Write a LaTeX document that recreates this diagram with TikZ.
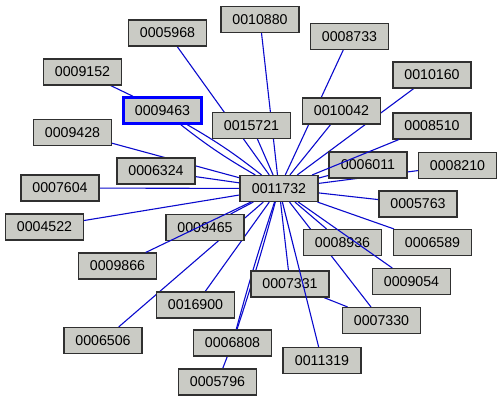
\documentclass[tikz,border=0pt]{standalone}
\usepackage{fontspec}
\setmainfont{Liberation Sans}
\usetikzlibrary{backgrounds}
\definecolor{nodefill}{RGB}{202,203,197}
\definecolor{nodeline}{RGB}{48,48,48}
\definecolor{edgeblue}{RGB}{10,10,205}
\definecolor{hiblue}{RGB}{0,0,255}
\tikzset{
  box/.style={draw=nodeline, fill=nodefill, line width=1.1pt, minimum width=78pt, minimum height=26pt, inner sep=0pt, font=\fontsize{14.2}{16}\selectfont},
  hibox/.style={box, draw=hiblue, line width=2.6pt},
  edge/.style={draw=edgeblue, line width=1.1pt},
}
\begin{document}
\begin{tikzpicture}[x=1pt,y=-1pt]
\useasboundingbox (0,0) rectangle (503,402);
\node[box] (n0005968) at (167.5,33) {0005968};
\node[box] (n0009152) at (82.5,72) {0009152};
\node[hibox] (n0009463) at (162.5,110.5) {0009463};
\node[box] (n0009428) at (72.5,132.5) {0009428};
\node[box] (n0006324) at (156,171) {0006324};
\node[box] (n0007604) at (60,188) {0007604};
\node[box] (n0015721) at (251.5,125.5) {0015721};
\node[box] (n0010880) at (260,19.5) {0010880};
\node[box] (n0008733) at (349.5,36.5) {0008733};
\node[box] (n0010160) at (432,75) {0010160};
\node[box] (n0010042) at (341.5,111) {0010042};
\node[box] (n0008510) at (432,126) {0008510};
\node[box] (n0006011) at (368,165) {0006011};
\node[box] (n0008210) at (457.5,165.5) {0008210};
\node[box] (n0011732) at (279,188.5) {0011732};
\node[box] (n0005763) at (418,204) {0005763};
\node[box] (n0004522) at (44.5,227) {0004522};
\node[box] (n0009465) at (205,227.5) {0009465};
\node[box] (n0009866) at (117.5,266) {0009866};
\node[box] (n0016900) at (195.5,305) {0016900};
\node[box] (n0006506) at (103,340.5) {0006506};
\node[box] (n0006808) at (232.5,343) {0006808};
\node[box] (n0005796) at (217.5,382) {0005796};
\node[box] (n0008936) at (342.5,242.5) {0008936};
\node[box] (n0006589) at (432.5,242.5) {0006589};
\node[box] (n0009054) at (411.5,281.5) {0009054};
\node[box] (n0007331) at (290,284) {0007331};
\node[box] (n0007330) at (381.5,320.5) {0007330};
\node[box] (n0011319) at (322,360.5) {0011319};
\begin{pgfonlayer}{background}
\draw[edge] (n0009152) -- (n0009463);
\draw[edge] (n0009463) to[bend left=4] (n0011732);
\draw[edge] (n0009463) to[bend right=4] (n0011732);
\draw[edge] (n0005968) -- (n0011732);
\draw[edge] (n0010880) -- (n0011732);
\draw[edge] (n0015721) -- (n0011732);
\draw[edge] (n0008733) -- (n0011732);
\draw[edge] (n0010042) -- (n0011732);
\draw[edge] (n0010160) -- (n0011732);
\draw[edge] (n0006011) -- (n0011732);
\draw[edge] (n0008210) -- (n0011732);
\draw[edge] (n0005763) -- (n0011732);
\draw[edge] (n0006589) -- (n0011732);
\draw[edge] (n0008936) -- (n0011732);
\draw[edge] (n0007330) -- (n0011732);
\draw[edge] (n0007331) -- (n0011732);
\draw[edge] (n0007331) -- (n0007330);
\draw[edge] (n0006808) to[bend left=1.5] (n0011732);
\draw[edge] (n0006808) to[bend right=1.5] (n0011732);
\draw[edge] (n0005796) -- (n0006808);
\draw[edge] (n0016900) -- (n0011732);
\draw[edge] (n0006506) -- (n0011732);
\draw[edge] (n0009465) -- (n0011732);
\draw[edge] (n0004522) -- (n0011732);
\draw[edge] (n0007604) -- (n0011732);
\draw[edge] (n0006324) -- (n0011732);
\draw[edge] (n0009428) -- (n0011732);
\end{pgfonlayer}
\draw[edge] (n0009866) -- (n0011732);
\draw[edge] (n0008510) -- (n0011732);
\draw[edge] (n0009054) -- (n0011732);
\draw[edge] (n0011319) -- (n0011732);
\end{tikzpicture}
\end{document}
